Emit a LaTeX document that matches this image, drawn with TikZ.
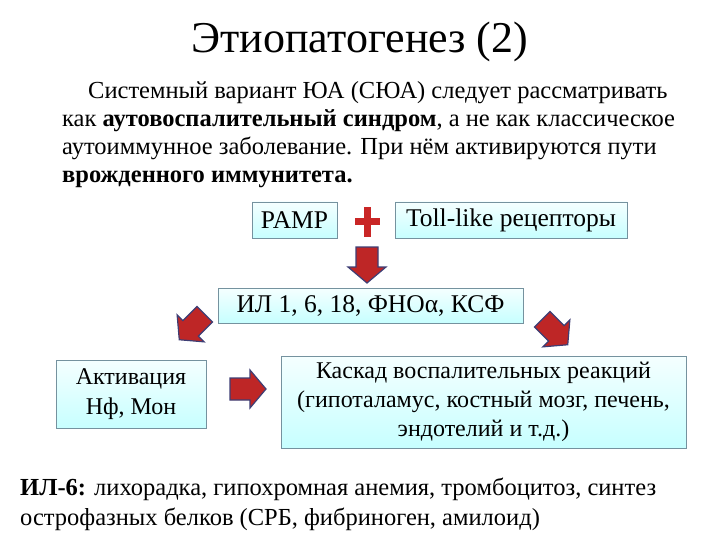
\documentclass[tikz,border=0pt]{standalone}
\usepackage{fontspec}
\setmainfont{Liberation Serif}
\tikzset{
 bx/.style={draw=black!30!cyan!40!gray, line width=0.8pt, top color=cyan!4, bottom color=cyan!22, inner sep=0pt, align=center, font=\fontsize{25.5}{30}\selectfont},
 arr/.style={fill=red!70!black!85, draw=blue!30!gray!70!black, line width=1.2pt, line join=miter},
 txt/.style={anchor=base west, inner sep=0pt, font=\fontsize{24.5}{30}\selectfont}
}
\begin{document}
\begin{tikzpicture}[x=1pt,y=-1pt]
\useasboundingbox (0,0) rectangle (720,540);
\node[font=\fontsize{44}{48}\selectfont] (title) at (360,42) {Этиопатогенез (2)};
\node[txt] (p1) at (88,99) {Системный вариант ЮА (СЮА) следует рассматривать};
\node[txt] (p2) at (62,127) {как \textbf{аутовоспалительный синдром}, а не как классическое};
\node[txt] (p3) at (62,155) {аутоиммунное заболевание. При нём активируются пути};
\node[txt] (p4) at (62,183) {\textbf{врожденного иммунитета.}};
\node[bx, minimum width=85pt, minimum height=36pt] (pamp) at (294.5,220) {PAMP};
\node[bx, minimum width=232pt, minimum height=36pt] (toll) at (511,220) {Toll-like рецепторы};
\coordinate (plus) at (367,222);
\fill[red!75!black!85] ([shift={(-12.5,-3.5)}]plus) rectangle ([shift={(12.5,3.5)}]plus);
\fill[red!75!black!85] ([shift={(-3.5,-15)}]plus) rectangle ([shift={(3.5,15)}]plus);
\node[bx, minimum width=305pt, minimum height=35pt] (il) at (370.5,305.5) {ИЛ 1, 6, 18, ФНОα, КСФ};
\node[bx, minimum width=150pt, minimum height=68pt, font=\fontsize{24}{30}\selectfont] (act) at (131,394) {Активация\\Нф, Мон};
\node[bx, minimum width=405pt, minimum height=92pt, font=\fontsize{24}{29}\selectfont] (kas) at (483.5,402) {Каскад воспалительных реакций\\(гипоталамус, костный мозг, печень,\\эндотелий и т.д.)};
\foreach \n/\p/\r in {a1/{(367,265)}/-90, a2/{(192,327)}/-135, a3/{(555,332)}/-45, a4/{(248,389)}/0}{
 \draw[arr, shift={\p}, rotate=\r] (-18,-11) -- (2,-11) -- (2,-19) -- (18,0) -- (2,19) -- (2,11) -- (-18,11) -- cycle;
}
\node[txt] (b1) at (20,495) {\textbf{ИЛ-6:} лихорадка, гипохромная анемия, тромбоцитоз, синтез};
\node[txt] (b2) at (20,525) {острофазных белков (СРБ, фибриноген, амилоид)};
\end{tikzpicture}
\end{document}
